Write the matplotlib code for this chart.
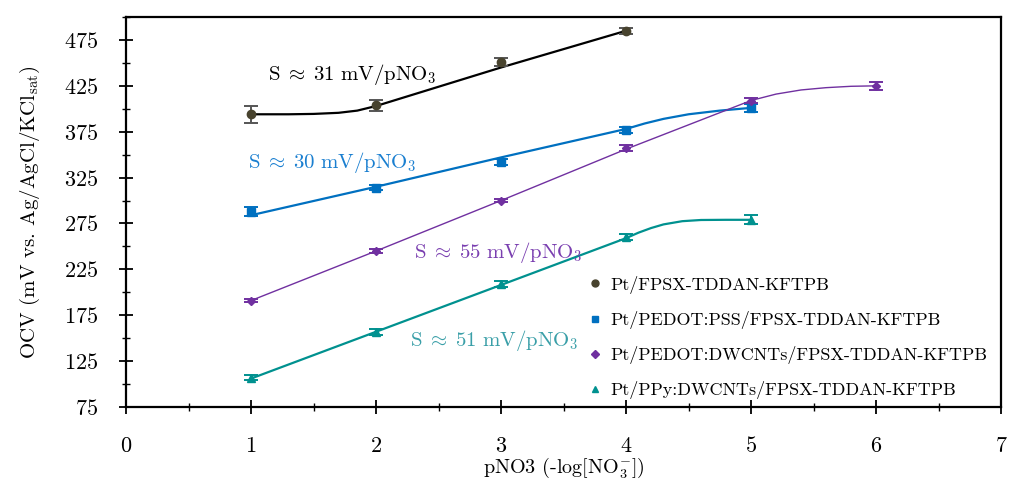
import numpy as np
import matplotlib
matplotlib.use('Agg')
import matplotlib.pyplot as plt
from matplotlib.ticker import MultipleLocator
from matplotlib.lines import Line2D

plt.rcParams['font.family'] = ['cmr10', 'DejaVu Serif']
plt.rcParams['mathtext.fontset'] = 'cm'
plt.rcParams['axes.formatter.use_mathtext'] = True

# measured points
ph = [1, 2, 3, 4, 5, 6]
ocv_pt = [394, 404, 451, 485]
err_pt = [9, 6, 4, 3]
ocv_pss = [288, 314, 342, 377, 401]
err_pss = [5, 3, 3, 3, 4]
ocv_dw = [191, 245, 300, 357, 409, 425]
err_dw = [2, 2, 2, 3, 3, 4]
ocv_ppy = [107, 157, 209, 260, 279]
err_ppy = [3, 3, 3, 3, 5]

# smoothed trend lines (anchor points)
fit_pt_x = [1, 1.3, 1.5, 1.7, 1.85, 2, 3, 4]
fit_pt_y = [394, 394, 394.4, 395.6, 398, 403, 445, 485]
fit_pss_x = [1, 2, 3, 4, 4.15, 4.3, 4.5, 4.75, 5]
fit_pss_y = [284, 315, 347, 378, 384, 389, 394, 398, 401]
fit_dw_x = [1, 2, 3, 4, 5, 5.2, 5.4, 5.6, 5.8, 6]
fit_dw_y = [191, 245, 300, 356, 409, 416, 420.5, 423, 424.5, 425]
fit_ppy_x = [1, 2, 3, 4, 4.1, 4.2, 4.3, 4.45, 4.6, 4.8, 5]
fit_ppy_y = [106, 157, 208, 259, 265, 270, 274, 277.5, 278.8, 279, 279]

labels = ['Pt/FPSX-TDDAN-KFTPB', 'Pt/PEDOT:PSS/FPSX-TDDAN-KFTPB',
          'Pt/PEDOT:DWCNTs/FPSX-TDDAN-KFTPB', 'Pt/PPy:DWCNTs/FPSX-TDDAN-KFTPB']
c_pt, c_pss, c_dw, c_ppy = '#48432e', '#0070c0', '#7030a0', '#00918f'

fig = plt.figure(figsize=(10.09, 4.82), dpi=100)
ax = fig.add_axes([0.1249, 0.1556, 0.8672, 0.8091])

ax.plot(fit_pt_x, fit_pt_y, color='black', lw=1.6)
ax.plot(fit_pss_x, fit_pss_y, color=c_pss, lw=1.6)
ax.plot(fit_dw_x, fit_dw_y, color=c_dw, lw=1.0)
ax.plot(fit_ppy_x, fit_ppy_y, color=c_ppy, lw=1.6)

eb = dict(capsize=5, elinewidth=1.4, capthick=1.4)
ax.errorbar(ph[:4], ocv_pt, yerr=err_pt, fmt='o', color=c_pt, ecolor='#555555', ms=6, **eb)
ax.errorbar(ph[:5], ocv_pss, yerr=err_pss, fmt='s', color=c_pss, ms=6, **eb)
ax.errorbar(ph, ocv_dw, yerr=err_dw, fmt='D', color=c_dw, ms=4.5, **eb)
ax.errorbar(ph[:5], ocv_ppy, yerr=err_ppy, fmt='^', color=c_ppy, ms=6, **eb)

fmt = r'$\mathrm{{S}}\;\approx\;{}\ \mathrm{{mV/pNO_3}}$'
ax.text(1.136, 437, fmt.format(31), color='black', fontsize=15, va='center')
ax.text(0.976, 341, fmt.format(30), color='#1a7fd0', fontsize=15, va='center')
ax.text(2.30, 243, fmt.format(55), color='#7a3fb0', fontsize=15, va='center')
ax.text(2.27, 148, fmt.format(51), color='#3a9fa8', fontsize=15, va='center')

ax.set_xlim(0, 7)
ax.set_ylim(75, 500)
ax.xaxis.set_major_locator(MultipleLocator(1))
ax.xaxis.set_minor_locator(MultipleLocator(0.5))
ax.set_yticks(np.arange(75, 476, 50))
ax.yaxis.set_minor_locator(MultipleLocator(25))
ax.tick_params(which='major', direction='inout', length=10, width=1.3, labelsize=16)
ax.tick_params(which='minor', direction='inout', length=6, width=1.0)
ax.tick_params(axis='y', which='major', pad=15)
ax.tick_params(axis='x', which='major', pad=16)
for s in ax.spines.values():
    s.set_linewidth(1.6)

ax.set_xlabel(r'pNO3 (-log[NO$_3^{-}$])', fontsize=14.5, labelpad=0)
ax.set_ylabel(r'OCV (mV vs. Ag/AgCl/KCl$_{\mathrm{sat}}$)', fontsize=15, labelpad=16)

handles = [Line2D([], [], ls='none', marker='o', color=c_pt, ms=5),
           Line2D([], [], ls='none', marker='s', color=c_pss, ms=5),
           Line2D([], [], ls='none', marker='D', color=c_dw, ms=4),
           Line2D([], [], ls='none', marker='^', color=c_ppy, ms=5)]
ax.legend(handles, labels, loc='upper left', bbox_to_anchor=(0.522, 0.355), frameon=False,
          fontsize=13, handlelength=0.6, handletextpad=0.5, labelspacing=0.95,
          borderaxespad=0)

fig.savefig('out.png', dpi=100)
